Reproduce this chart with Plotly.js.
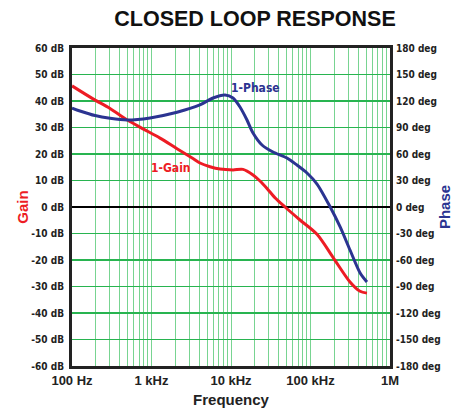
<!DOCTYPE html>
<html>
<head>
<meta charset="utf-8">
<script src="https://cdn.plot.ly/plotly-3.0.1.min.js"></script>
<style>html,body{margin:0;padding:0;background:#fff;}#chart{width:453px;height:411px;}</style>
</head>
<body>
<div id="chart"></div>
<script>
// Gain curve (Hz, dB)
const gainFreq = [100, 184, 301, 492, 782, 1279, 2094, 3327, 4070, 5445, 7270, 10600, 14160, 18920, 23170, 28370, 36000, 47780, 73800, 120800, 191900, 314000, 420000, 513000];
const gainDb   = [45.7, 40.8, 37.2, 32.9, 29.5, 26.0, 22.0, 18.3, 16.6, 15.2, 14.3, 14.0, 14.2, 12.1, 9.8, 7.0, 3.4, 0, -4.9, -10.3, -19.0, -28.3, -31.8, -32.5];
// Phase curve (Hz, deg)
const phaseFreq = [100, 126, 195, 301, 492, 958, 2094, 4060, 5940, 8410, 10600, 12970, 15890, 18920, 24550, 33750, 50600, 67600, 90400, 120800, 177000, 236000, 314000, 421000, 513000];
const phaseDeg  = [112, 108.7, 103.5, 100.4, 98.5, 100.8, 107.2, 115.5, 123.4, 126.8, 123.4, 113.2, 98.5, 83.8, 70.2, 62.3, 55.5, 47.5, 38.5, 26.0, 0, -22.6, -48.7, -74.7, -84.9];

// Axis ticks
const freqTicks = [100,200,300,400,500,600,700,800,900,1000,2000,3000,4000,5000,6000,7000,8000,9000,10000,20000,30000,40000,50000,60000,70000,80000,90000,100000,200000,300000,400000,500000,600000,700000,800000,900000,1000000];
const freqNames = {100:'100 Hz',1000:'1 kHz',10000:'10 kHz',100000:'100 kHz',1000000:'1M'};
const freqLabels = freqTicks.map(v => freqNames[v] ? '<b>' + freqNames[v] + '</b>' : '');
const gainTicks = [-60,-50,-40,-30,-20,-10,0,10,20,30,40,50,60];
const gainLabels = gainTicks.map(v => '<b>' + v + ' dB</b>');
const phaseTicks = [-180,-150,-120,-90,-60,-30,0,30,60,90,120,150,180];
const phaseLabels = phaseTicks.map(v => '<b>' + v + ' deg</b>');

const RED = 'rgb(237,28,36)';
const BLUE = 'rgb(43,52,145)';
const NARROW = '"DejaVu Sans Condensed", "Liberation Sans Narrow", "Arial Narrow", sans-serif';
const ARIAL = '"Liberation Sans", Arial, sans-serif';

const traces = [
  {x: phaseFreq, y: phaseDeg, yaxis: 'y2', mode: 'lines', line: {color: BLUE, width: 3, shape: 'spline', smoothing: 0.8}, hoverinfo: 'skip'},
  {x: gainFreq, y: gainDb, mode: 'lines', line: {color: RED, width: 3, shape: 'spline', smoothing: 0.8}, hoverinfo: 'skip'}
];

const layout = {
  width: 453, height: 411,
  margin: {l: 72, r: 63, t: 48, b: 45},
  paper_bgcolor: '#fff', plot_bgcolor: '#fff',
  showlegend: false,
  title: {text: '<b>CLOSED LOOP RESPONSE</b>', x: 0.563, xanchor: 'center', y: 0.955, yanchor: 'middle', font: {family: ARIAL, size: 21.5, color: '#111'}},
  xaxis: {
    type: 'log', range: [2, 6],
    tickmode: 'array', tickvals: freqTicks, ticktext: freqLabels,
    showgrid: true, gridcolor: 'rgb(120,212,145)', gridwidth: 1,
    showline: true, linecolor: '#222', linewidth: 3, mirror: true,
    ticks: '', tickfont: {family: ARIAL, size: 13, color: '#222'},
    title: {text: '<b>Frequency</b>', font: {family: ARIAL, size: 15, color: '#222'}, standoff: 8},
    zeroline: false
  },
  yaxis: {
    range: [-60, 60], tickmode: 'array', tickvals: gainTicks, ticktext: gainLabels,
    showgrid: true, gridcolor: 'rgb(40,180,80)', gridwidth: 1.3,
    zeroline: true, zerolinecolor: '#000', zerolinewidth: 1.5,
    showline: true, linecolor: '#222', linewidth: 3, mirror: true,
    ticks: '', ticklabelstandoff: 3, tickfont: {family: NARROW, size: 10, color: '#222'},
    title: {text: '<b>Gain</b>', font: {family: ARIAL, size: 15, color: RED}, standoff: 0}
  },
  yaxis2: {
    overlaying: 'y', side: 'right', range: [-180, 180],
    tickmode: 'array', tickvals: phaseTicks, ticktext: phaseLabels,
    showgrid: false, zeroline: false, showline: false,
    ticks: '', ticklabelstandoff: 5, tickfont: {family: NARROW, size: 10, color: '#222'},
    title: {text: '<b>Phase</b>', font: {family: ARIAL, size: 15, color: BLUE}, standoff: 0}
  },
  annotations: [
    {x: Math.log10(20600), y: 134.7, yref: 'y2', xref: 'x', text: '<b>1-Phase</b>', showarrow: false, font: {family: NARROW, size: 12, color: BLUE}},
    {x: Math.log10(1760), y: 14.7, yref: 'y', xref: 'x', text: '<b>1-Gain</b>', showarrow: false, font: {family: NARROW, size: 12, color: RED}}
  ]
};

Plotly.newPlot('chart', traces, layout, {staticPlot: true, displayModeBar: false});
</script>
</body>
</html>
